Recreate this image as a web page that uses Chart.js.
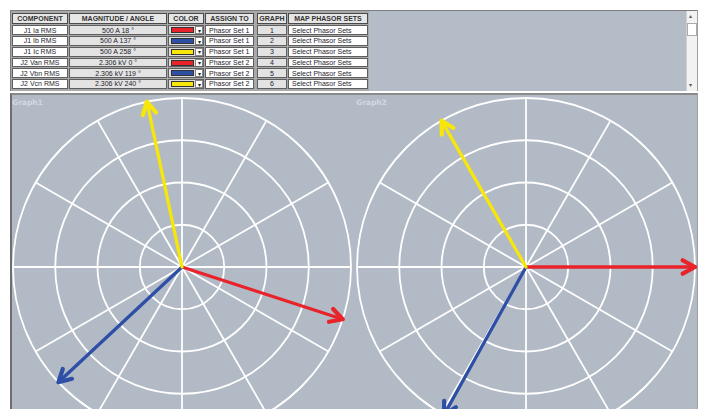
<!DOCTYPE html>
<html><head><meta charset="utf-8">
<script src="https://cdn.jsdelivr.net/npm/chart.js@4.4.0/dist/chart.umd.min.js"></script>
<style>
html,body{margin:0;padding:0;width:702px;height:409px;overflow:hidden;background:#fff;font-family:Arial,"Liberation Sans",sans-serif;}
.abs{position:absolute;box-sizing:border-box;}
#frame{left:10px;top:10px;width:688px;height:81px;background:#b4bcc8;border-top:1px solid #7c7c7c;border-left:1px solid #7c7c7c;border-right:1px solid #a0a0a0;}
#tablebg{left:11px;top:11px;width:358px;height:80px;background:#a9a9a9;}
.cell{font-size:7px;border:1px solid #5e5e5e;color:#1e1e2e;white-space:nowrap;overflow:hidden;display:flex;align-items:center;}
.hdr{font-weight:bold;background:#e6e6e6;justify-content:center;color:#333;border-color:#4a4a4a;}
.ctr{justify-content:center;}
.lft{padding-left:3px;}
.sw{border:1px solid #333;}
.dd{background:#fff;border:1px solid #888;font-size:6px;display:flex;align-items:center;justify-content:center;color:#222;}
#graphs{left:10px;top:93px;width:688px;height:316px;background:#b2bac6;border-top:2px solid #8a8a8a;border-left:2px solid #6e6e6e;border-right:1px solid #a0a0a0;}
.glab{font-family:"DejaVu Sans",sans-serif;font-weight:bold;font-size:7.5px;color:#d4d9e1;}
#sb{left:686px;top:11px;width:11px;height:80px;background:#f2f2f2;border-left:1px solid #d0d0d0;}
</style></head>
<body>
<div id="frame" class="abs"></div>
<div id="tablebg" class="abs"></div>
<div id="sb" class="abs">
  <div class="abs" style="left:2px;top:1px;font-size:6px;color:#555;">&#9652;</div>
  <div class="abs" style="left:0px;top:12px;width:10px;height:13px;background:#fff;border:1px solid #aaa;"></div>
  <div class="abs" style="left:2px;top:70px;font-size:6px;color:#555;">&#9662;</div>
</div>
<div id="table"></div>
<div id="graphs" class="abs"></div>
<div class="abs glab" style="left:12px;top:98px;">Graph1</div>
<div class="abs glab" style="left:356px;top:98px;">Graph2</div>
<canvas id="c1" class="abs" width="342" height="342" style="left:11px;top:96px;"></canvas>
<canvas id="c2" class="abs" width="342" height="342" style="left:355px;top:96px;"></canvas>
<script>
// ---- data ----
const components = ['J1 Ia RMS','J1 Ib RMS','J1 Ic RMS','J2 Van RMS','J2 Vbn RMS','J2 Vcn RMS'];
const units = ['A','A','A','kV','kV','kV'];
const set1Magnitudes = [500, 500, 500];          // A
const set1Angles = [18, 137, 258];               // degrees
const set2Magnitudes = [2.306, 2.306, 2.306];    // kV
const set2Angles = [0, 119, 240];                // degrees
const phaseColors = ['#e8232a', '#2f4ea6', '#f7e60a'];
const assignTo = ['Phasor Set 1','Phasor Set 1','Phasor Set 1','Phasor Set 2','Phasor Set 2','Phasor Set 2'];
const graphNums = ['1','2','3','4','5','6'];
const mapLabel = 'Select Phasor Sets';
const headers = ['COMPONENT','MAGNITUDE / ANGLE','COLOR','ASSIGN TO','GRAPH','MAP PHASOR SETS'];
const spokeLabels = ['0°','30°','60°','90°','120°','150°','180°','210°','240°','270°','300°','330°'];

// ---- table ----
const mags = set1Magnitudes.concat(set2Magnitudes);
const angs = set1Angles.concat(set2Angles);
const cols = [
  {x:12, w:56, cls:'ctr', bg:'#ffffff'},
  {x:69, w:98, cls:'ctr', bg:'#e3e3e3'},
  {x:168, w:36, cls:'', bg:'#dcdcdc'},
  {x:205, w:49, cls:'lft', bg:'#ffffff'},
  {x:257, w:30, cls:'ctr', bg:'#e3e3e3'},
  {x:288, w:80, cls:'lft', bg:'#ffffff'}
];
const tbl = document.getElementById('table');
function cell(x,y,w,h,cls,bg,txt){
  const d=document.createElement('div');
  d.className='abs cell '+cls;
  d.style.left=x+'px';d.style.top=y+'px';d.style.width=w+'px';d.style.height=h+'px';
  if(bg) d.style.background=bg;
  if(txt!==undefined) d.textContent=txt;
  tbl.appendChild(d);return d;
}
headers.forEach((h,i)=>cell(cols[i].x,12.5,cols[i].w,11,'hdr',null,h));
components.forEach((c,r)=>{
  const y=25.3+r*10.75, h=9.8;
  cell(cols[0].x,y,cols[0].w,h,cols[0].cls,cols[0].bg,c);
  cell(cols[1].x,y,cols[1].w,h,cols[1].cls,cols[1].bg,mags[r]+' '+units[r]+' '+angs[r]+' °');
  const cc=cell(cols[2].x,y,cols[2].w,h,'',cols[2].bg);
  const sw=document.createElement('div');sw.className='abs sw';
  sw.style.left='2px';sw.style.top='1px';sw.style.width='23px';sw.style.height='6px';
  sw.style.background=phaseColors[r%3];cc.appendChild(sw);
  const dd=document.createElement('div');dd.className='abs dd';
  dd.style.left='26px';dd.style.top='0px';dd.style.width='8px';dd.style.height='8px';
  dd.innerHTML='&#9662;';cc.appendChild(dd);
  cell(cols[3].x,y,cols[3].w,h,cols[3].cls,cols[3].bg,assignTo[r]);
  cell(cols[4].x,y,cols[4].w,h,cols[4].cls,cols[4].bg,graphNums[r]);
  cell(cols[5].x,y,cols[5].w,h,cols[5].cls,cols[5].bg,mapLabel);
});

// ---- phasor charts ----
function posFor(r, angleRad, dist){
  if (typeof r.getPointPositionForAngle === 'function') return r.getPointPositionForAngle(angleRad, dist);
  // index 0 sits at -90deg; add the extra angle to reach the phasor direction
  return r.getPointPosition(0, dist, angleRad + Math.PI/2);
}
const phasorPlugin = {
  id:'phasors',
  afterDatasetsDraw(chart){
    const r = chart.scales.r, ctx = chart.ctx;
    const ph = chart.options.plugins.phasors;
    ctx.save();
    ctx.lineCap='round'; ctx.lineJoin='round';
    ph.magnitudes.forEach((m,i)=>{
      const a = ph.angles[i]*Math.PI/180;
      const p = posFor(r, a, r.getDistanceFromCenterForValue(m));
      ctx.strokeStyle = ph.colors[i];
      ctx.lineWidth = 3.3;
      ctx.beginPath(); ctx.moveTo(r.xCenter, r.yCenter); ctx.lineTo(p.x, p.y); ctx.stroke();
      const L=14, spread=0.5;
      ctx.lineWidth = 4.2;
      ctx.beginPath();
      ctx.moveTo(p.x - L*Math.cos(a-spread), p.y - L*Math.sin(a-spread));
      ctx.lineTo(p.x, p.y);
      ctx.lineTo(p.x - L*Math.cos(a+spread), p.y - L*Math.sin(a+spread));
      ctx.stroke();
    });
    ctx.restore();
  }
};
function makeChart(id, magnitudes, angles){
  const M = Math.max(...magnitudes);
  return new Chart(document.getElementById(id), {
    type:'radar',
    data:{labels:spokeLabels, datasets:[{data:spokeLabels.map(()=>null), borderWidth:0, pointRadius:0}]},
    options:{
      responsive:false, animation:false, events:[], devicePixelRatio:1,
      layout:{padding:2},
      plugins:{legend:{display:false}, tooltip:{enabled:false},
        phasors:{magnitudes, angles, colors:phaseColors}},
      scales:{r:{min:0, max:M, ticks:{display:false, stepSize:M/4},
        pointLabels:{display:false},
        grid:{circular:true, color:'#ffffff', lineWidth:1.8},
        angleLines:{color:'#ffffff', lineWidth:1.8}}}
    },
    plugins:[phasorPlugin]
  });
}
makeChart('c1', set1Magnitudes, set1Angles);
makeChart('c2', set2Magnitudes, set2Angles);
</script>
</body></html>
